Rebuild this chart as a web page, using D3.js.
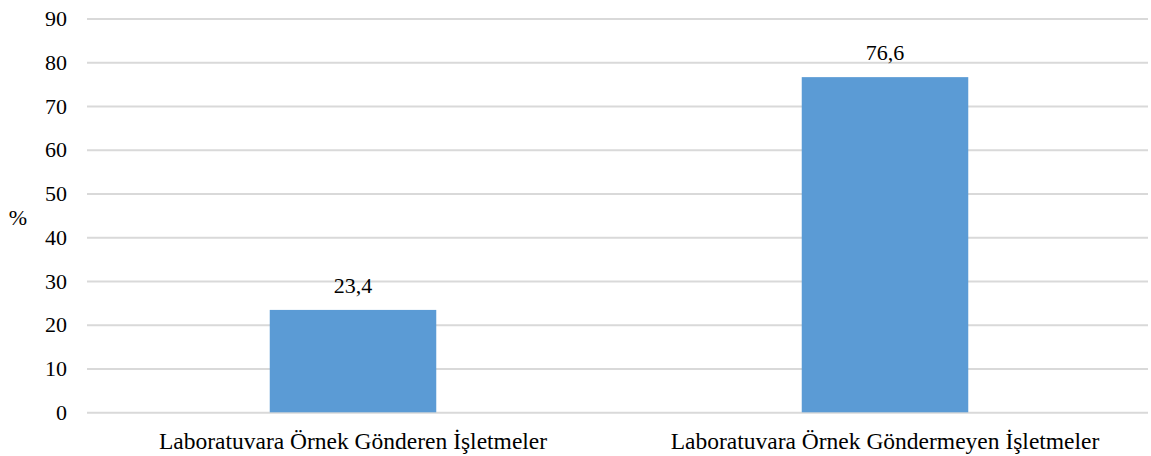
<!DOCTYPE html>
<html><head><meta charset="utf-8">
<script src="https://cdn.jsdelivr.net/npm/d3@7"></script>
<style>body{margin:0;background:#fff}svg{display:block}svg text{font-family:"Times New Roman","Liberation Serif","DejaVu Serif",serif}</style>
</head><body>
<svg id="chart" width="1151" height="456"></svg>
<script>
const categories = ["Laboratuvara Örnek Gönderen İşletmeler", "Laboratuvara Örnek Göndermeyen İşletmeler"];
const values = [23.4, 76.6];
const valueLabels = ["23,4", "76,6"];
const yTicks = [0, 10, 20, 30, 40, 50, 60, 70, 80, 90];
const yLabel = "%";

const svg = d3.select("#chart");
const font = '"Times New Roman","Liberation Serif","DejaVu Serif",serif';
const fs = 22;
const mLeft = 87, mRight = 1151, mTop = 18.5, mBottom = 412.3;

const x = d3.scaleBand().domain(categories).range([mLeft, mRight]).paddingInner(0.687).paddingOuter(0.3435);
const y = d3.scaleLinear().domain([0, 90]).range([mBottom, mTop]);

const yAxis = svg.append("g").attr("transform", `translate(${mLeft},0)`)
  .call(d3.axisLeft(y).tickValues(yTicks).tickSize(-(mRight - 3 - mLeft)).tickPadding(20).tickFormat(d3.format("d")));
yAxis.attr("font-family", null).attr("font-size", null);
yAxis.select(".domain").remove();
yAxis.selectAll(".tick line").attr("stroke", "#d9d9d9").attr("stroke-width", 2);
yAxis.selectAll(".tick text").style("font-family", font).style("font-size", fs + "px").attr("fill", "#000");

svg.append("g").selectAll("rect").data(values).join("rect")
  .attr("x", (d, i) => x(categories[i]))
  .attr("width", x.bandwidth())
  .attr("y", d => y(d))
  .attr("height", d => y(0) - y(d))
  .attr("fill", "#5b9bd5");

svg.append("g").selectAll("text").data(values).join("text")
  .attr("x", (d, i) => x(categories[i]) + x.bandwidth() / 2)
  .attr("y", d => y(d) - 17)
  .attr("text-anchor", "middle")
  .style("font-family", font).style("font-size", fs + "px").attr("fill", "#000")
  .text((d, i) => valueLabels[i]);

svg.append("g").selectAll("text").data(categories).join("text")
  .attr("x", d => x(d) + x.bandwidth() / 2)
  .attr("y", 449)
  .attr("text-anchor", "middle")
  .style("font-family", font).style("font-size", "23.5px").attr("fill", "#000")
  .text(d => d);

svg.append("text").attr("x", 18).attr("y", 225).attr("text-anchor", "middle")
  .style("font-family", font).style("font-size", fs + "px").attr("fill", "#000").text(yLabel);
</script>
</body></html>
